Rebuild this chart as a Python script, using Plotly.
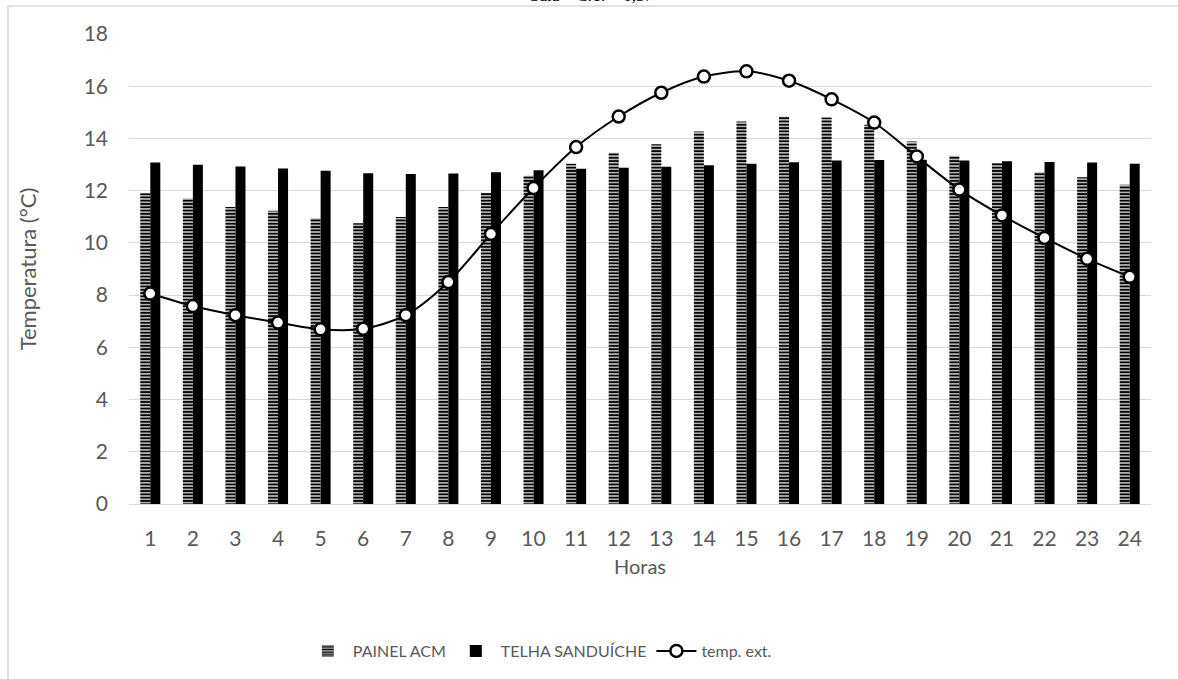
import plotly.graph_objects as go

# Hourly data
horas = [str(h) for h in range(1, 25)]
painel_acm = [11.9, 11.7, 11.37, 11.23, 10.94, 10.75, 10.99, 11.37, 11.91, 12.57,
              13.03, 13.45, 13.78, 14.27, 14.65, 14.83, 14.8, 14.52, 13.88, 13.34,
              13.06, 12.71, 12.51, 12.23]
telha_sanduiche = [13.08, 12.99, 12.93, 12.85, 12.76, 12.67, 12.64, 12.66, 12.71, 12.78,
                   12.84, 12.88, 12.92, 12.97, 13.03, 13.09, 13.16, 13.17, 13.18, 13.16,
                   13.13, 13.1, 13.08, 13.03]
temp_ext = [8.06, 7.58, 7.23, 6.95, 6.69, 6.71, 7.23, 8.5, 10.34, 12.1,
            13.67, 14.84, 15.75, 16.37, 16.57, 16.21, 15.5, 14.61, 13.31, 12.04,
            11.05, 10.19, 9.39, 8.7]
y_ticks = [0, 2, 4, 6, 8, 10, 12, 14, 16, 18]

FONT = "Lato, 'Open Sans', sans-serif"
GREY = "#595959"

fig = go.Figure()
fig.add_trace(go.Bar(
    x=horas, y=painel_acm, name="PAINEL ACM",
    marker=dict(color="white", line=dict(width=0),
                pattern=dict(shape="-", fgcolor="black", bgcolor="white",
                             size=3.3, solidity=0.65, fillmode="replace")),
))
fig.add_trace(go.Bar(
    x=horas, y=telha_sanduiche, name="TELHA SANDUÍCHE",
    marker=dict(color="black", line=dict(width=0)),
))
fig.add_trace(go.Scatter(
    x=horas, y=temp_ext, name="temp. ext.", mode="lines+markers",
    line=dict(color="black", width=2, shape="spline", smoothing=0.8),
    marker=dict(size=12, color="white", line=dict(color="black", width=2.5)),
))

fig.update_layout(
    width=1178, height=679,
    margin=dict(l=129, r=27, t=34, b=174),
    paper_bgcolor="white", plot_bgcolor="white",
    barmode="group", bargap=0.53, bargroupgap=0,
    font=dict(family=FONT, size=16, color=GREY),
    showlegend=True,
    legend=dict(orientation="h", x=0.402, xanchor="center", y=-0.31, yanchor="middle",
                font=dict(family=FONT, size=16, color=GREY), itemwidth=40,
                traceorder="normal"),
    shapes=[dict(type="rect", xref="paper", yref="paper",
                 x0=-0.1184, x1=1.05, y0=-0.45, y1=1.0595,
                 line=dict(color="#d9d9d9", width=1.5), layer="below")],
    annotations=[dict(text="Sala – C.T. = 0,37", xref="paper", yref="paper",
                      x=0.453, y=1.0595, yanchor="middle", showarrow=False,
                      yshift=11,
                      font=dict(family="Liberation Serif, serif", size=17, color="black"))],
)
fig.update_xaxes(
    type="category", range=[-0.5, 23.5], automargin=False,
    showgrid=False, showline=True, linecolor="#d9d9d9", linewidth=1,
    ticks="", ticklabelstandoff=16,
    tickfont=dict(family=FONT, size=21, color=GREY),
    title=dict(text="Horas", standoff=10, font=dict(family=FONT, size=20, color=GREY)),
)
fig.update_yaxes(
    range=[0, 18], tickvals=y_ticks, automargin=False,
    showgrid=True, gridcolor="#d9d9d9", gridwidth=1,
    zeroline=False, showline=False, ticks="", ticklabelstandoff=20,
    tickfont=dict(family=FONT, size=21, color=GREY),
    title=dict(text="Temperatura (°C)", standoff=40, font=dict(family=FONT, size=22, color=GREY)),
)

fig.write_html("out.html")
